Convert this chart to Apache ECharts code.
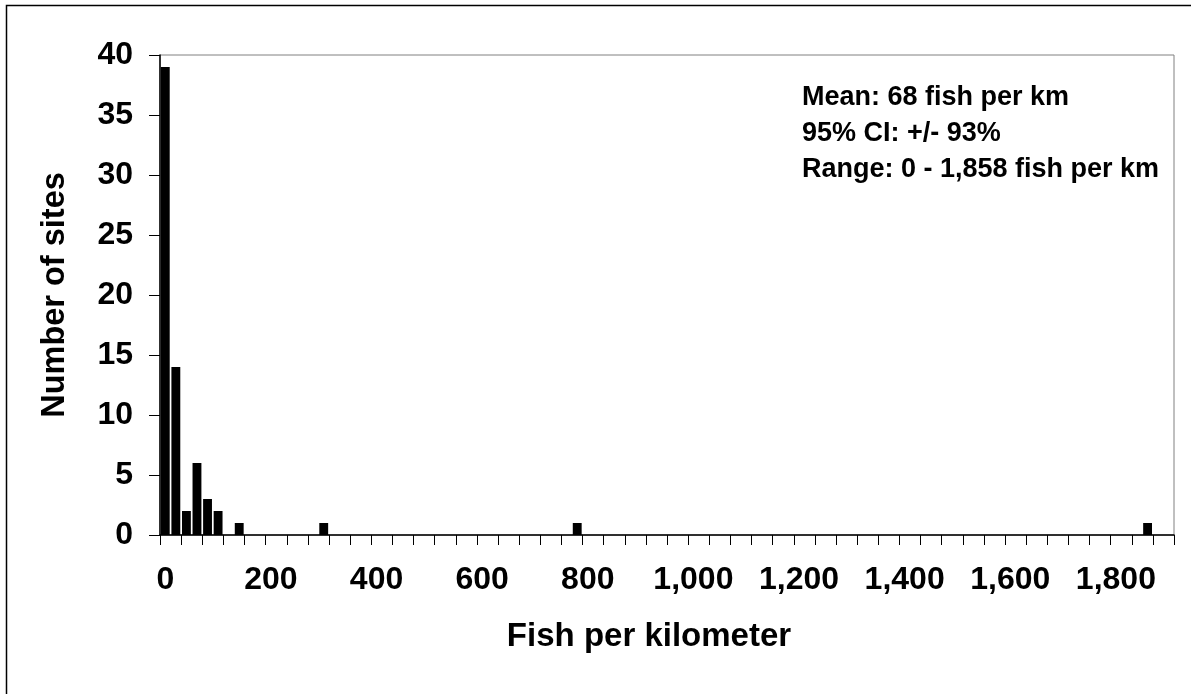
<!DOCTYPE html>
<html>
<head>
<meta charset="utf-8">
<script src="https://cdn.jsdelivr.net/npm/echarts@6/dist/echarts.min.js"></script>
<style>
html,body{margin:0;padding:0;background:#fff;}
#chart{width:1191px;height:694px;}
</style>
</head>
<body>
<div id="chart"></div>
<script>
// Histogram bins (upper bound of each 20 fish/km bin)
const bins = ['0','20','40','60','80','100','120','140','160','180','200','220','240','260','280','300','320','340','360','380',
  '400','420','440','460','480','500','520','540','560','580','600','620','640','660','680','700','720','740','760','780',
  '800','820','840','860','880','900','920','940','960','980','1000','1020','1040','1060','1080','1100','1120','1140','1160','1180',
  '1200','1220','1240','1260','1280','1300','1320','1340','1360','1380','1400','1420','1440','1460','1480','1500','1520','1540','1560','1580',
  '1600','1620','1640','1660','1680','1700','1720','1740','1760','1780','1800','1820','1840','1860','1880','1900'];
// Non-empty bins and number of sites in them
const occupiedBins = ['0','20','40','60','80','100','140','300','780','1860'];
const siteCounts   = [39, 14, 2, 6, 3, 2, 1, 1, 1, 1];
const yTicks = [0, 5, 10, 15, 20, 25, 30, 35, 40];
const annotation = ['Mean: 68 fish per km', '95% CI: +/- 93%', 'Range: 0 - 1,858 fish per km'];

const FONT = '"Liberation Sans", Arial, sans-serif';
const seriesData = occupiedBins.map((b, i) => [b, siteCounts[i]]);

const chart = echarts.init(document.getElementById('chart'), null, {renderer: 'canvas'});
chart.setOption({
  backgroundColor: '#fff',
  animation: false,
  grid: {left: 160, right: 17, top: 55, bottom: 159, show: true, borderColor: '#808080', borderWidth: 1, containLabel: false},
  xAxis: {
    type: 'category',
    data: bins,
    boundaryGap: true,
    name: 'Fish per kilometer',
    nameLocation: 'middle',
    nameGap: 85,
    nameTextStyle: {fontFamily: FONT, fontWeight: 'bold', fontSize: 33, color: '#000', padding: [0, 36, 0, 0]},
    axisLine: {lineStyle: {color: '#000', width: 1.5}},
    axisTick: {show: true, interval: 1, length: 10, inside: false, lineStyle: {color: '#000', width: 1}},
    axisLabel: {
      interval: 9, margin: 29, color: '#000', fontFamily: FONT, fontWeight: 'bold', fontSize: 32,
      formatter: v => Number(v).toLocaleString('en-US')
    },
    splitLine: {show: false}
  },
  yAxis: {
    type: 'value',
    min: 0, max: 40, interval: 5,
    name: 'Number of sites',
    nameLocation: 'middle',
    nameRotate: 90,
    nameGap: 88,
    nameTextStyle: {fontFamily: FONT, fontWeight: 'bold', fontSize: 32.5, color: '#000'},
    axisLine: {show: true, lineStyle: {color: '#000', width: 1.5}},
    axisTick: {show: true, length: 11, lineStyle: {color: '#000', width: 1}},
    axisLabel: {
      margin: 27, color: '#000', fontFamily: FONT, fontWeight: 'bold', fontSize: 32,
      formatter: v => yTicks.includes(v) ? String(v) : ''
    },
    splitLine: {show: false}
  },
  series: [{
    type: 'bar',
    data: seriesData,
    barCategoryGap: '16%',
    itemStyle: {color: '#000'}
  }],
  graphic: [
    {type: 'rect', shape: {x: 6.5, y: 5.5, width: 1300, height: 800}, style: {fill: 'none', stroke: '#000', lineWidth: 1.5}, z: 100, silent: true},
    {type: 'text', left: 802, top: 80, z: 100, style: {text: annotation.join('\n'), font: 'bold 27px ' + FONT, fill: '#000', lineHeight: 36}}
  ]
});
</script>
</body>
</html>
